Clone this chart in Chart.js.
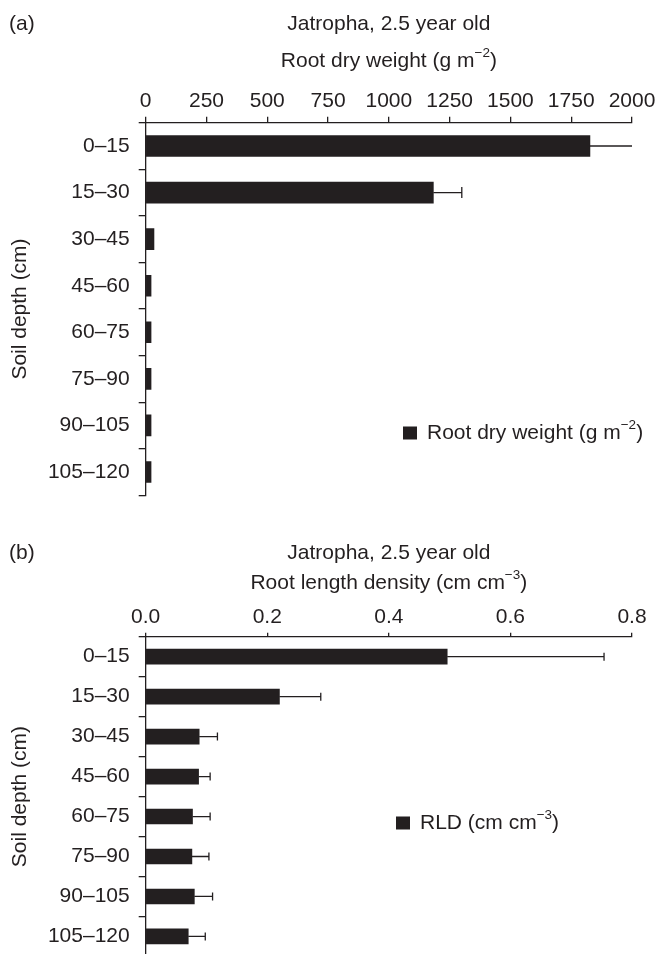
<!DOCTYPE html>
<html>
<head>
<meta charset="utf-8">
<script src="https://cdn.jsdelivr.net/npm/chart.js@4"></script>
<style>
  html, body { margin: 0; padding: 0; background: #fff; overflow: hidden; }
  .wrap { position: absolute; left: 0; width: 659px; }
</style>
</head>
<body>
<div class="wrap" style="top:0;height:520px"><canvas id="rdw" width="659" height="520"></canvas></div>
<div class="wrap" style="top:520px;height:458px"><canvas id="rld" width="659" height="458"></canvas></div>
<script>
// data
const depths = ['0–15', '15–30', '30–45', '45–60', '60–75', '75–90', '90–105', '105–120'];
const rdwMean = [1827, 1183, 34, 22, 22, 22, 22, 22];
const rdwErr = [173, 117, 0, 0, 0, 0, 0, 0];
const rdwTicks = [0, 250, 500, 750, 1000, 1250, 1500, 1750, 2000];
const rldMean = [0.496, 0.220, 0.088, 0.087, 0.077, 0.076, 0.080, 0.070];
const rldErr = [0.258, 0.068, 0.030, 0.019, 0.029, 0.028, 0.030, 0.028];
const rldTicks = [0, 0.2, 0.4, 0.6, 0.8];

const INK = '#231f20';
const FONT = "'Liberation Sans', Arial, sans-serif";
const FS = 21;

// text with a superscript part, e.g. m^-2
function drawRich(ctx, parts, x, y, align) {
    const widths = parts.map(p => {
        ctx.font = (p.sup ? 13.5 : FS) + 'px ' + FONT;
        return ctx.measureText(p.t).width;
    });
    const total = widths.reduce((a, b) => a + b, 0);
    let cx = align === 'center' ? x - total / 2 : x;
    ctx.textAlign = 'left';
    ctx.textBaseline = 'middle';
    ctx.fillStyle = INK;
    parts.forEach((p, i) => {
        ctx.font = (p.sup ? 13.5 : FS) + 'px ' + FONT;
        ctx.fillText(p.t, cx, p.sup ? y - 8 : y);
        cx += widths[i];
    });
}

function makeChart(id, cfg) {
    const ctx = document.getElementById(id).getContext('2d');

    const decor = {
        id: 'decor',
        afterDatasetsDraw(chart) {
            const c = chart.ctx;
            const xs = chart.scales.x, ys = chart.scales.y;
            c.save();
            c.strokeStyle = INK;
            c.lineWidth = 1.3;
            cfg.mean.forEach((m, i) => {
                if (!cfg.err[i]) return;
                const y = ys.getPixelForValue(i);
                const x0 = xs.getPixelForValue(m);
                const x1 = xs.getPixelForValue(m + cfg.err[i]);
                c.beginPath();
                c.moveTo(x0, y);
                c.lineTo(x1, y);
                // cap hidden when the whisker runs to the axis end
                if (x1 < chart.chartArea.right - 1) {
                    c.moveTo(x1, y - cfg.cap);
                    c.lineTo(x1, y + cfg.cap);
                }
                c.stroke();
            });
            c.restore();
        },
        afterDraw(chart) {
            const c = chart.ctx;
            const a = chart.chartArea;
            const mid = (a.left + a.right) / 2;
            c.save();
            c.fillStyle = INK;
            c.font = FS + 'px ' + FONT;
            c.textBaseline = 'middle';
            c.textAlign = 'left';
            c.fillText(cfg.panel, 9, cfg.titleY);
            c.textAlign = 'center';
            c.fillText('Jatropha, 2.5 year old', mid, cfg.titleY);
            drawRich(c, cfg.axisTitle, mid, cfg.axisTitleY, 'center');
            // legend
            c.fillStyle = INK;
            c.fillRect(cfg.legX, cfg.legY - 6.5, 14, 13);
            drawRich(c, cfg.legend, cfg.legX + 24, cfg.legY, 'left');
            c.restore();
        }
    };

    return new Chart(ctx, {
        type: 'bar',
        data: {
            labels: depths,
            datasets: [{
                data: cfg.mean,
                backgroundColor: INK,
                borderWidth: 0,
                barThickness: cfg.bar
            }]
        },
        options: {
            indexAxis: 'y',
            responsive: false,
            animation: false,
            layout: { padding: { left: 0, top: 0, right: 27, bottom: cfg.padBottom } },
            scales: {
                x: {
                    position: 'top',
                    min: cfg.ticks[0],
                    max: cfg.ticks[cfg.ticks.length - 1],
                    afterBuildTicks(scale) {
                        scale.ticks = cfg.ticks.map(v => ({ value: v }));
                    },
                    afterFit(scale) { scale.height = cfg.axisTop; },
                    grid: { drawOnChartArea: false, tickLength: cfg.tickLen, color: INK, lineWidth: 1.3 },
                    border: { color: INK, width: 1.3 },
                    ticks: {
                        color: INK,
                        padding: 3,
                        maxRotation: 0,
                        autoSkip: false,
                        font: { family: FONT, size: FS },
                        callback: cfg.fmt
                    }
                },
                y: {
                    afterFit(scale) { scale.width = 145.7; },
                    grid: { offset: true, drawOnChartArea: false, tickLength: 7, color: INK, lineWidth: 1.3 },
                    border: { color: INK, width: 1.3 },
                    ticks: { color: INK, padding: 9, font: { family: FONT, size: FS } },
                    title: {
                        display: true,
                        text: 'Soil depth (cm)',
                        color: INK,
                        padding: { top: 8, bottom: 0 },
                        font: { family: FONT, size: FS }
                    }
                }
            },
            plugins: { legend: { display: false }, tooltip: { enabled: false } }
        },
        plugins: [decor]
    });
}

makeChart('rdw', {
    mean: rdwMean, err: rdwErr, ticks: rdwTicks,
    fmt: v => String(v),
    bar: 21, cap: 5.5, tickLen: 6,
    axisTop: 122.7, padBottom: 24.7,
    panel: '(a)', titleY: 24, axisTitleY: 61,
    axisTitle: [{ t: 'Root dry weight (g m' }, { t: '−2', sup: true }, { t: ')' }],
    legend: [{ t: 'Root dry weight (g m' }, { t: '−2', sup: true }, { t: ')' }],
    legX: 403, legY: 433
});

makeChart('rld', {
    mean: rldMean, err: rldErr, ticks: rldTicks,
    fmt: v => Number(v).toFixed(1),
    bar: 15, cap: 4, tickLen: 4,
    axisTop: 116.7, padBottom: 21.3,
    panel: '(b)', titleY: 33, axisTitleY: 63,
    axisTitle: [{ t: 'Root length density (cm cm' }, { t: '−3', sup: true }, { t: ')' }],
    legend: [{ t: 'RLD (cm cm' }, { t: '−3', sup: true }, { t: ')' }],
    legX: 396, legY: 303
});
</script>
</body>
</html>
